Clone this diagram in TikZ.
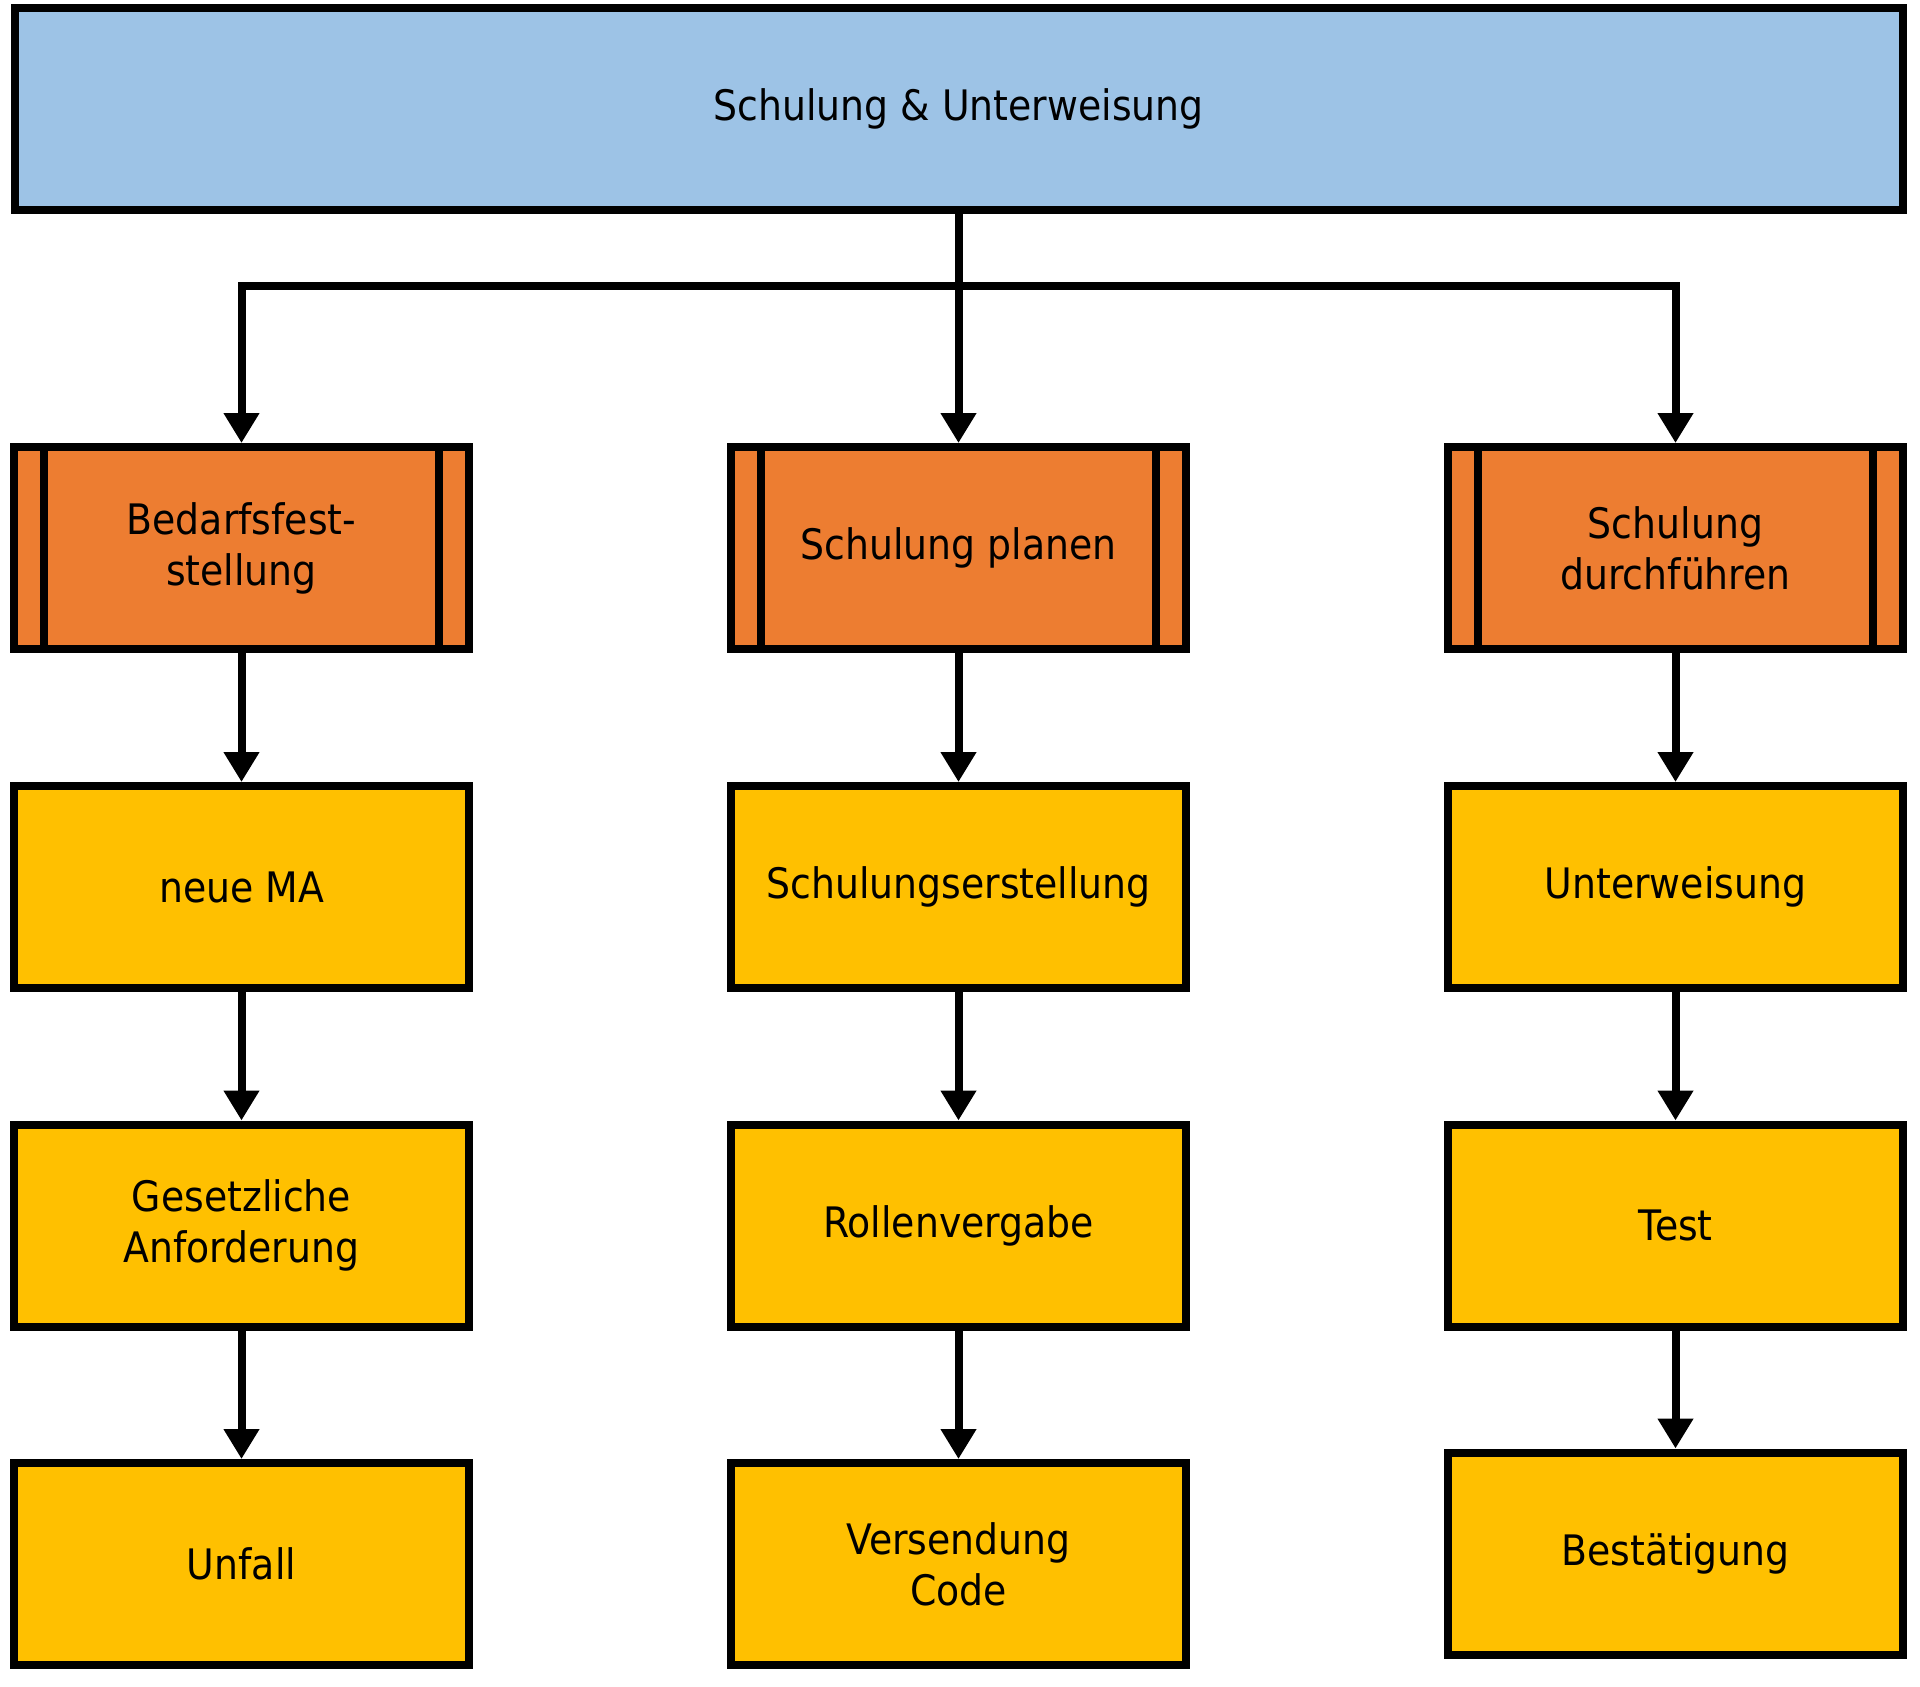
\documentclass[tikz,border=0pt]{standalone}
\usepackage{fontspec}
\setmainfont{DejaVu Sans}[FakeStretch=0.9]
\usetikzlibrary{arrows.meta}
\definecolor{topblue}{RGB}{157,195,230}
\definecolor{procorange}{RGB}{237,125,49}
\definecolor{stepyellow}{RGB}{255,192,0}
\tikzset{
  box/.style={draw=black, line width=8pt, rectangle, minimum width=455pt, minimum height=202pt,
    inner sep=0pt, align=center, text=black,
    font=\fontsize{42pt}{51pt}\selectfont},
  topbox/.style={box, fill=topblue, minimum width=1888pt},
  procbox/.style={box, fill=procorange},
  stepbox/.style={box, fill=stepyellow},
  conn/.style={draw=black, line width=8pt, -{Triangle[length=30pt,width=34pt]}},
}
\begin{document}
\begin{tikzpicture}[x=1pt,y=-1pt]
\useasboundingbox (0,0) rectangle (1920,1687);
\fill[white] (0,0) rectangle (1920,1687);

\node[topbox] (top) at (958.5,109) {Schulung \& Unterweisung};

\node[procbox] (p1) at (241.5,548) {Bedarfsfest-\\stellung};
\node[procbox] (p2) at (958.5,548) {Schulung planen};
\node[procbox] (p3) at (1675.5,548) {Schulung\\durchführen};

\node[stepbox] (a1) at (241.5,887) {neue MA};
\node[stepbox] (a2) at (958.5,887) {Schulungserstellung};
\node[stepbox] (a3) at (1675.5,887) {Unterweisung};

\node[stepbox] (b1) at (241.5,1225.5) {Gesetzliche\\Anforderung};
\node[stepbox] (b2) at (958.5,1225.5) {Rollenvergabe};
\node[stepbox] (b3) at (1675.5,1225.5) {Test};

\node[stepbox] (c1) at (241.5,1564) {Unfall};
\node[stepbox] (c2) at (958.5,1564) {Versendung\\Code};
\node[stepbox] (c3) at (1675.5,1553.5) {Bestätigung};

% inner bars of the process boxes
\foreach \p in {p1,p2,p3}{
  \draw[line width=8pt] ([xshift=34pt]\p.north west) -- ([xshift=34pt]\p.south west);
  \draw[line width=8pt] ([xshift=-34pt]\p.north east) -- ([xshift=-34pt]\p.south east);
}

% connectors
\coordinate (hline) at (0,285.5);
\coordinate (jM) at (top.south |- hline);
\draw[conn] (top.south) -- (p2.north);
\draw[conn] (jM) -| (p1.north);
\draw[conn] (jM) -| (p3.north);

\draw[conn] (p1.south) -- (a1.north);
\draw[conn] (a1.south) -- (b1.north);
\draw[conn] (b1.south) -- (c1.north);

\draw[conn] (p2.south) -- (a2.north);
\draw[conn] (a2.south) -- (b2.north);
\draw[conn] (b2.south) -- (c2.north);

\draw[conn] (p3.south) -- (a3.north);
\draw[conn] (a3.south) -- (b3.north);
\draw[conn] (b3.south) -- (c3.north);
\end{tikzpicture}
\end{document}
